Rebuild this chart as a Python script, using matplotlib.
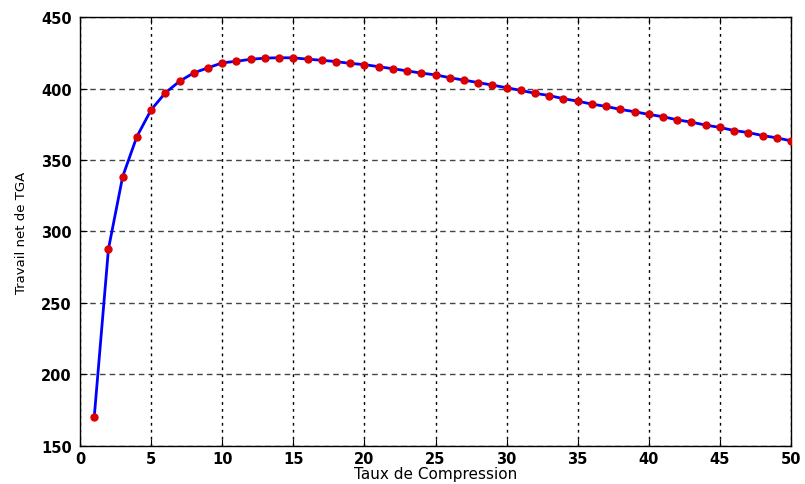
import matplotlib.pyplot as plt
import numpy as np

# compression ratio and net work of the gas turbine (TGA)
taux = list(range(1, 51))
travail = [
    170.0, 287.7, 338.4, 366.4, 385.1, 397.0, 405.1, 411.0, 414.5, 418.0,
    419.1, 420.5, 421.3, 421.6, 421.5, 420.6, 419.8, 418.9, 417.6, 416.8,
    415.3, 413.9, 412.4, 410.8, 409.6, 407.6, 405.9, 404.2, 402.4, 400.6,
    398.7, 396.7, 395.1, 392.9, 391.2, 389.1, 387.5, 385.4, 383.8, 381.9,
    380.3, 378.1, 376.5, 374.4, 372.8, 370.6, 369.2, 367.1, 365.5, 363.4,
]

xticks = list(range(0, 51, 5))
yticks = list(range(150, 451, 50))

plt.rcParams["font.family"] = ["DejaVu Sans"]

fig = plt.figure(figsize=(8.05, 4.85), dpi=100)
ax = fig.add_axes([0.0994, 0.0790, 0.8832, 0.8836])

ax.plot(taux, travail, "-", color="#0000ff", linewidth=2, zorder=3)
ax.plot(taux, travail, "o", color="#dd0000", markersize=5, zorder=4)

ax.set_xlim(0, 50)
ax.set_ylim(150, 450)
ax.set_xticks(xticks)
ax.set_yticks(yticks)

# MATLAB-like grid: dotted verticals, dashed horizontals
ax.xaxis.grid(True, linestyle=(0, (2, 3)), color="black", linewidth=1)
ax.yaxis.grid(True, linestyle=(0, (4, 3)), color="#444444", linewidth=1)
ax.set_axisbelow(True)

ax.tick_params(direction="in", top=True, right=True, length=5,
               labelsize=10.5)
ax.tick_params(axis="y", pad=6)
ax.tick_params(axis="x", pad=4)
for lab in ax.get_xticklabels() + ax.get_yticklabels():
    lab.set_fontweight("bold")
for s in ax.spines.values():
    s.set_linewidth(1)

ax.set_xlabel("Taux de Compression", fontsize=11)
ax.set_ylabel("Travail net de TGA", fontsize=9.5)
ax.xaxis.set_label_coords(0.5, -0.048)
ax.yaxis.set_label_coords(-0.073, 0.5)

fig.savefig("out.png", dpi=100)
